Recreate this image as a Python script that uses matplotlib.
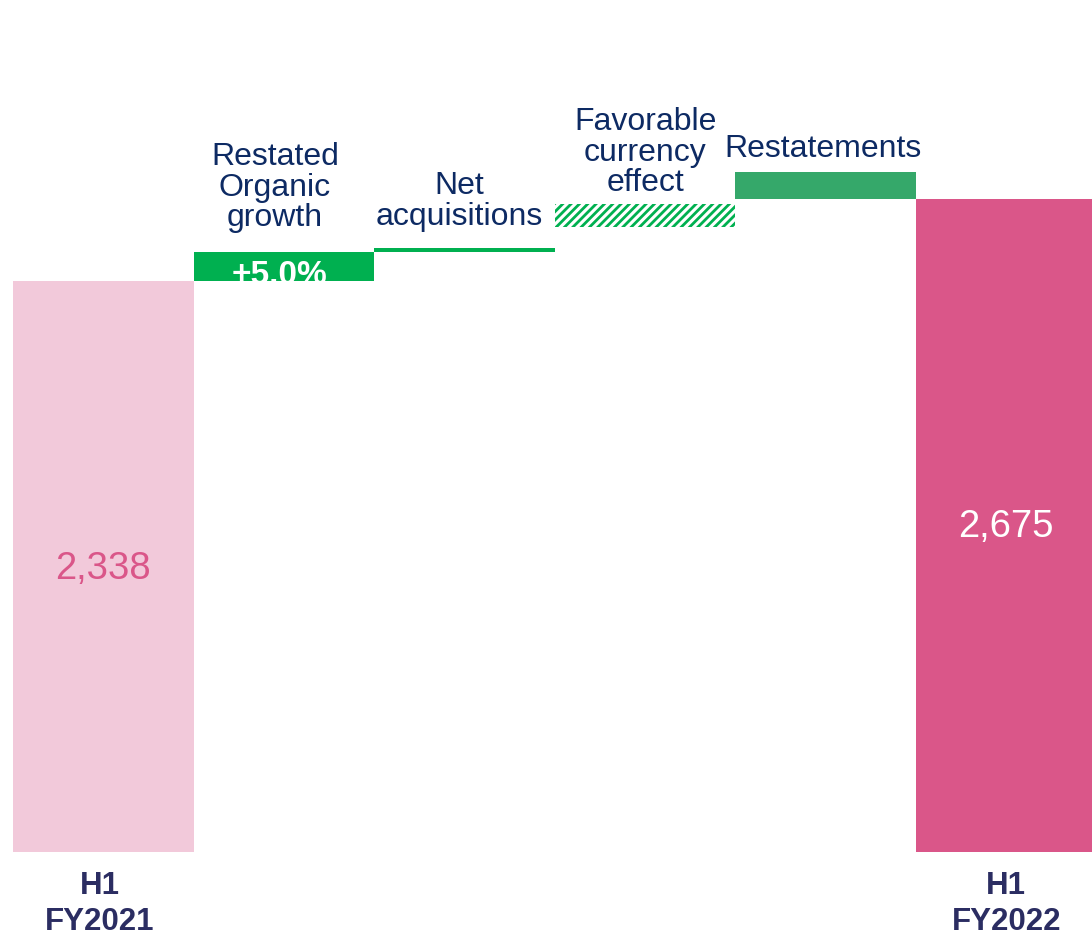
import matplotlib
matplotlib.use("Agg")
import matplotlib.pyplot as plt

plt.rcParams['font.family'] = ['Liberation Sans', 'DejaVu Sans']
plt.rcParams['hatch.linewidth'] = 2.0

categories = ["H1\nFY2021", "Restated\nOrganic\ngrowth", "Net\nacquisitions",
              "Favorable\ncurrency\neffect", "Restatements", "H1\nFY2022"]
bar_bottoms = [0, 2338, 2456, 2561, 2673, 0]
bar_heights = [2338, 118, 16, 93, 112, 2675]
value_labels = ["2,338", "+5.0%", "", "", "", "2,675"]

fig = plt.figure(figsize=(10.92, 9.35), dpi=100)
ax = fig.add_axes([0, 0, 1, 1])
px_per_unit = 0.2442
ax.set_xlim(-0.572, -0.572 + 1092 / 180.6)
ax.set_ylim(-(935 - 852) / px_per_unit, 852 / px_per_unit)
ax.axis('off')

navy = '#0D2A63'
label_navy = '#2B2D62'
colors = ['#F2C9DA', '#00B050', '#00B050', 'white', '#35A86A', '#DA5689']
x = list(range(len(categories)))
bars = []
for i in x:
    if i == 3:
        b = ax.bar(i, bar_heights[i], bottom=bar_bottoms[i], width=1.0,
                   facecolor='white', edgecolor='#00B050', hatch='////', linewidth=0)
    else:
        b = ax.bar(i, bar_heights[i], bottom=bar_bottoms[i], width=1.0,
                   color=colors[i], linewidth=0)
    bars.append(b[0])

# totals labels
ax.text(0, 1157, value_labels[0], ha='center', va='center', fontsize=27.5, color='#DA5689')
ax.text(5, 1332, value_labels[5], ha='center', va='center', fontsize=27.5, color='white')

# +5.0% clipped inside the bar
t = ax.text(1 - 0.022, bar_bottoms[1] - 10, value_labels[1], ha='center', va='baseline',
            fontsize=24, fontweight='bold', color='white')
t.set_clip_path(bars[1])

# bottom category labels
for i in (0, 5):
    ax.text(i - 0.02 if i == 0 else i, -213, categories[i], ha='center', va='center',
            fontsize=22.5, fontweight='bold', color=label_navy, linespacing=1.22)

# top category labels
offsets = {1: 13.5, 2: 12, 3: 4, 4: 5.5}
dx = {1: -0.05, 2: -0.03, 3: 0.0, 4: -0.013}
for i in (1, 2, 3, 4):
    top = bar_bottoms[i] + bar_heights[i]
    ax.annotate(categories[i], xy=(i + dx[i], top), xytext=(0, offsets[i]),
                textcoords='offset points', ha='center', va='bottom', fontsize=23,
                color=navy, linespacing=1.03)

fig.savefig('out.png', dpi=100)
